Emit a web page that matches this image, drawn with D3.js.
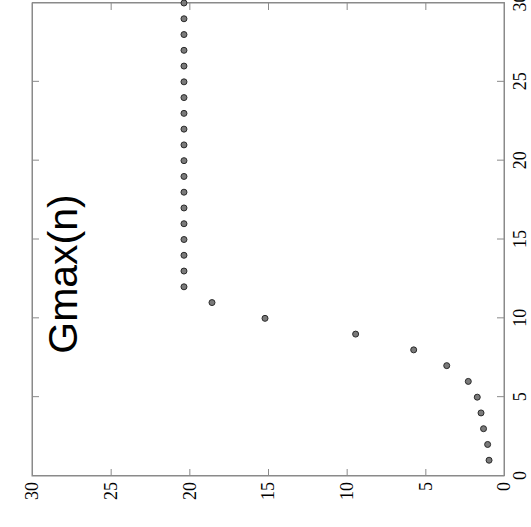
<!DOCTYPE html>
<head>
	<meta charset="utf-8">
	<style>
		body {
			margin: 0;
			background: #fff;
		}

		svg .axis path,
		svg .axis line {
			stroke: #8a8a8a;
		}

		svg .frame {
			fill: none;
			stroke: #8a8a8a;
		}

		svg .dot {
			fill: #7a7a7a;
			stroke: #2a2a2a;
			stroke-width: 1;
		}

		svg .title {
			font: 41px "Liberation Sans", Arial, sans-serif;
			fill: #000;
		}
	</style>
</head>

<body>
	<svg width="531" height="527"></svg>
	<script src="https://d3js.org/d3.v7.min.js"></script>
	<script>

		// n on the x axis, Gmax(n) on the y axis; the whole plot is turned a quarter to the left
		var n = [1, 2, 3, 4, 5, 6, 7, 8, 9, 10, 11, 12, 13, 14, 15, 16, 17, 18, 19, 20,
			21, 22, 23, 24, 25, 26, 27, 28, 29, 30];
		var gmax = [0.95, 1.04, 1.3, 1.46, 1.7, 2.27, 3.64, 5.74, 9.43, 15.19, 18.56,
			20.34, 20.34, 20.34, 20.34, 20.34, 20.34, 20.34, 20.34, 20.34,
			20.34, 20.34, 20.34, 20.34, 20.34, 20.34, 20.34, 20.34, 20.34, 20.34];
		var xTicks = [0, 5, 10, 15, 20, 25, 30];
		var yTicks = [0, 5, 10, 15, 20, 25, 30];
		var title = "Gmax(n)";

		var svg = d3.select("svg"),
			width = 473,
			height = 472,
			g = svg.append("g").attr("transform", "translate(32,476) rotate(-90)");

		var x = d3.scaleLinear()
			.domain([0, 30])
			.range([0, width]);

		var y = d3.scaleLinear()
			.domain([0, 30])
			.range([height, 0]);

		// Axes, ticks point inside the frame
		g.append("g")
			.attr("class", "axis")
			.attr("transform", "translate(0," + height + ")")
			.call(d3.axisBottom(x).tickValues(xTicks).tickSize(-7).tickPadding(9))
			.attr("font-size", 18)
			.attr("font-family", "'Liberation Serif', serif");

		g.append("g")
			.attr("class", "axis")
			.call(d3.axisLeft(y).tickValues(yTicks).tickSize(-7).tickPadding(6))
			.attr("font-size", 18)
			.attr("font-family", "'Liberation Serif', serif");

		// mirrored ticks without labels
		g.append("g")
			.attr("class", "axis")
			.call(d3.axisTop(x).tickValues(xTicks).tickSize(-7).tickFormat(""));

		g.append("g")
			.attr("class", "axis")
			.attr("transform", "translate(" + width + ",0)")
			.call(d3.axisRight(y).tickValues(yTicks).tickSize(-7).tickFormat(""));

		g.append("rect")
			.attr("class", "frame")
			.attr("width", width)
			.attr("height", height);

		g.append("text")
			.attr("class", "title")
			.attr("x", 202)
			.attr("y", 45)
			.attr("text-anchor", "middle")
			.text(title);

		// Points
		g.selectAll(".dot")
			.data(n)
			.enter().append("circle")
			.attr("class", "dot")
			.attr("cx", function (d) { return x(d); })
			.attr("cy", function (d, i) { return y(gmax[i]); })
			.attr("r", 3);

	</script>
